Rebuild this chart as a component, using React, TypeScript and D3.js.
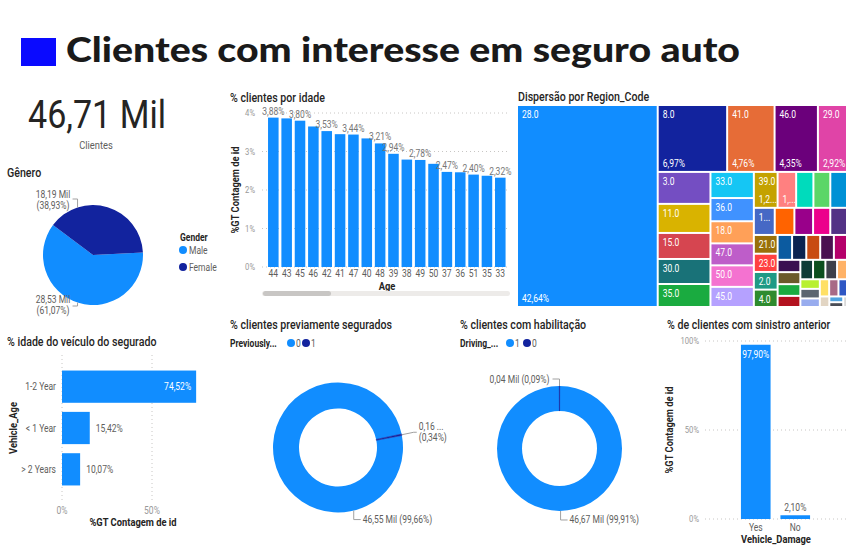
import React, { useRef, useEffect } from "react";
import * as d3 from "d3";

// KPI
const kpiValue = 46.71;
const kpiLabel = "Clientes";

// Gênero (Mil)
const genderLabels = ["Male", "Female"];
const genderValues = [28.53, 18.19];

// % clientes por idade
const ageLabels = ["44", "43", "45", "46", "42", "41", "47", "40", "48", "39", "38", "49", "50", "37", "36", "51", "35", "33"];
const agePct = [3.88, 3.86, 3.8, 3.65, 3.53, 3.45, 3.44, 3.34, 3.21, 2.94, 2.79, 2.78, 2.68, 2.47, 2.46, 2.4, 2.37, 2.32];
const ageTicks = [0, 1, 2, 3, 4];

// Dispersão por Region_Code (% dos clientes)
const regionCodes = [28, 8, 41, 46, 29, 3, 11, 15, 30, 35, 33, 36, 18, 47, 50, 45, 39, 37, 6, 48, 7, 14, 13, 38, 9, 27, 21, 23, 2, 4, 32, 12, 43, 26, 17, 24, 0, 19, 16, 31, 20, 49, 25, 34, 10, 22, 40, 5, 1, 42, 44, 51, 52];
const regionPct = [42.64, 6.97, 4.76, 4.35, 2.92, 2.53, 2.3, 2.06, 1.98, 1.82, 1.7, 1.51, 1.44, 1.43, 1.4, 1.31, 1.28, 1.0, 0.93, 0.91, 0.9, 0.85, 0.8, 0.76, 0.7, 0.68, 0.67, 0.65, 0.63, 0.62, 0.54, 0.53, 0.52, 0.51, 0.49, 0.42, 0.41, 0.4, 0.38, 0.37, 0.36, 0.34, 0.29, 0.28, 0.28, 0.25, 0.24, 0.24, 0.22, 0.15, 0.12, 0.1, 0.06];
const regionColors = ["#118DFF", "#12239E", "#E66C37", "#6B007B", "#E044A7", "#744EC2", "#D9B300", "#D64550", "#197278", "#1AAB40", "#15C6F4", "#4092FF", "#FFA058", "#BE5DC9", "#F472D0", "#B5A1FF", "#C4A200", "#FF8080", "#00DBBC", "#5BD667", "#0091D5", "#4668C5", "#FF6300", "#99008A", "#EC008C", "#533285", "#99700A", "#FF4141", "#1F9A85", "#2E8B2E", "#0C5BA0", "#0B2350", "#C84B12", "#4A1150", "#B5006B", "#3A1050", "#6B5A2A", "#1AAB40", "#B3121F", "#0E3C36", "#0B4F1E", "#3D404A", "#FFB266", "#B8F02F", "#5C6670", "#98ACEE", "#FFE066", "#A86A86", "#2F57C4", "#E2D5C3", "#4FA3E0", "#4A4D55", "#D9D9D9"];

// % idade do veículo do segurado
const vehicleAgeLabels = ["1-2 Year", "< 1 Year", "> 2 Years"];
const vehicleAgePct = [74.52, 15.42, 10.07];
const vehicleAgeTicks = [0, 50];

// % clientes previamente segurados (Mil)
const prevLabels = ["0", "1"];
const prevValues = [46.55, 0.16];

// % clientes com habilitação (Mil)
const drivingLabels = ["1", "0"];
const drivingValues = [46.67, 0.04];

// % de clientes com sinistro anterior
const damageLabels = ["Yes", "No"];
const damagePct = [97.9, 2.1];
const damageTicks = [0, 50, 100];

const BODY = "Roboto, 'Noto Sans', sans-serif";
const HEAD = "Lato, 'Open Sans', sans-serif";
const K = 0.85; // compressão horizontal (imita fonte condensada)
const DARK = "#252423";
const GRAY = "#605E5C";
const BLUE = "#118DFF";
const NAVY = "#12239E";
const deg = Math.PI / 180;

const br = d3.formatLocale({ decimal: ",", thousands: ".", grouping: [3], currency: ["R$", ""] });
const f2 = br.format(".2f");
const pct = (v: number) => f2(v) + "%";

function fitText(node: SVGTextElement, full: string, maxW: number) {
  node.textContent = full;
  if (node.getComputedTextLength() * K <= maxW) return true;
  for (let n = full.length - 1; n >= 1; n--) {
    node.textContent = full.slice(0, n) + "...";
    if (node.getComputedTextLength() * K <= maxW) return true;
  }
  return false;
}

export default function App() {
  const ref = useRef<SVGSVGElement>(null);

  useEffect(() => {
    const svg = d3.select(ref.current);
    svg.selectAll("*").remove();
    svg.style("font-family", BODY);

    const title = (x: number, y: number, t: string) =>
      svg.append("text").attr("x", x).attr("y", y).attr("font-size", 12.5).attr("font-weight", 500)
        .attr("fill", DARK).text(t);

    // cabeçalho
    svg.append("rect").attr("x", 21).attr("y", 38).attr("width", 35).attr("height", 28).attr("fill", "#0A0AFF");
    svg.append("text").attr("x", 66).attr("y", 62).attr("font-family", HEAD).attr("font-size", 35)
      .attr("font-weight", 900).attr("fill", "#1A1A1A")
      .attr("textLength", 674).attr("lengthAdjust", "spacingAndGlyphs")
      .text("Clientes com interesse em seguro auto");

    // KPI
    svg.append("text").attr("x", 97).attr("y", 128).attr("text-anchor", "middle").attr("font-size", 38)
      .attr("font-weight", 400).attr("fill", DARK).attr("textLength", 138).attr("lengthAdjust", "spacingAndGlyphs")
      .text(f2(kpiValue) + " Mil");
    svg.append("text").attr("x", 96).attr("y", 149).attr("text-anchor", "middle").attr("font-size", 11)
      .attr("fill", GRAY).text(kpiLabel);

    // ---------- Gênero ----------
    title(7, 177, "Gênero");
    {
      const cx = 93, cy = 255, r = 50;
      const total = d3.sum(genderValues);
      const pie = d3.pie<number>().sort(null).startAngle(87 * deg).endAngle(447 * deg);
      const arcs = pie(genderValues);
      const arc = d3.arc<d3.PieArcDatum<number>>().innerRadius(0).outerRadius(r);
      const g = svg.append("g").attr("transform", `translate(${cx},${cy})`);
      g.selectAll("path").data(arcs).join("path").attr("d", arc).attr("fill", (_, i) => (i === 0 ? BLUE : NAVY));
      const lab = [
        { i: 1, ang: 342, ty: [198, 209], ly: 199 },
        { i: 0, ang: 198, ty: [303, 314], ly: 306 },
      ];
      lab.forEach((l) => {
        const ax = cx + r * Math.sin(l.ang * deg), ay = cy - r * Math.cos(l.ang * deg);
        svg.append("path").attr("d", `M${ax},${ay}V${l.ly}H${ax - 5}`).attr("fill", "none")
          .attr("stroke", "#A0A0A0").attr("stroke-width", 1);
        const v = genderValues[l.i];
        svg.append("text").attr("x", 53).attr("y", l.ty[0]).attr("text-anchor", "middle").attr("font-size", 10)
          .attr("fill", GRAY).text(f2(v) + " Mil");
        svg.append("text").attr("x", 53).attr("y", l.ty[1]).attr("text-anchor", "middle").attr("font-size", 10)
          .attr("fill", GRAY).text("(" + pct((v / total) * 100) + ")");
      });
      svg.append("text").attr("x", 180).attr("y", 241).attr("font-size", 10).attr("font-weight", 700)
        .attr("fill", DARK).text("Gender");
      genderLabels.forEach((lbl, i) => {
        svg.append("circle").attr("cx", 183).attr("cy", 250 + i * 17).attr("r", 4).attr("fill", i === 0 ? BLUE : NAVY);
        svg.append("text").attr("x", 189).attr("y", 254 + i * 17).attr("font-size", 10).attr("fill", GRAY).text(lbl);
      });
    }

    // ---------- % clientes por idade ----------
    title(230, 102, "% clientes por idade");
    {
      const x = d3.scaleBand().domain(ageLabels).range([266.7, 506.9]).paddingInner(0.21).paddingOuter(0.1);
      const y = d3.scaleLinear().domain([0, 4]).range([267, 113]);
      const g = svg.append("g");
      g.selectAll("line.grid").data(ageTicks).join("line").attr("class", "grid")
        .attr("x1", 262).attr("x2", 510).attr("y1", (d) => y(d)).attr("y2", (d) => y(d))
        .attr("stroke", "#C8C6C4").attr("stroke-dasharray", "1,3");
      g.selectAll("text.yt").data(ageTicks).join("text").attr("class", "yt")
        .attr("x", 255).attr("y", (d) => y(d) + 3).attr("text-anchor", "end").attr("font-size", 9)
        .attr("fill", "#999").text((d) => d + "%");
      g.selectAll("rect").data(agePct).join("rect")
        .attr("x", (_, i) => x(ageLabels[i])!).attr("width", x.bandwidth())
        .attr("y", (d) => y(d)).attr("height", (d) => y(0) - y(d)).attr("fill", BLUE);
      g.selectAll("text.xt").data(ageLabels).join("text").attr("class", "xt")
        .attr("x", (d) => x(d)! + x.bandwidth() / 2).attr("y", 277).attr("text-anchor", "middle")
        .attr("font-size", 10).attr("fill", GRAY).text((d) => d);
      // rótulos de dados, ocultando os que se sobrepõem
      const boxes: { x0: number; x1: number; y0: number; y1: number }[] = [];
      agePct.forEach((v, i) => {
        const cxp = x(ageLabels[i])! + x.bandwidth() / 2;
        const t = g.append("text").attr("x", cxp).attr("y", y(v) - 3).attr("text-anchor", "middle")
          .attr("font-size", 10).attr("fill", "#777").text(pct(v));
        const w = (t.node() as SVGTextElement).getComputedTextLength() * K;
        const b = { x0: cxp - w / 2, x1: cxp + w / 2, y0: y(v) - 12.5, y1: y(v) - 3 };
        const hit = boxes.some((o) => b.x0 < o.x1 && b.x1 > o.x0 && b.y0 < o.y1 && b.y1 > o.y0);
        if (hit) t.remove();
        else boxes.push(b);
      });
      svg.append("text").attr("x", 387).attr("y", 290).attr("text-anchor", "middle").attr("font-size", 11)
        .attr("font-weight", 700).attr("fill", DARK).text("Age");
      svg.append("text").attr("transform", "translate(239,190) rotate(-90)").attr("text-anchor", "middle")
        .attr("font-size", 11).attr("font-weight", 700).attr("fill", DARK).text("%GT Contagem de id");
      svg.append("rect").attr("x", 262).attr("y", 291).attr("width", 248).attr("height", 5).attr("rx", 2.5).attr("fill", "#EDEBE9");
      svg.append("rect").attr("x", 263).attr("y", 291).attr("width", 68).attr("height", 5).attr("rx", 2.5).attr("fill", "#C8C6C4");
    }

    // ---------- Treemap ----------
    title(518, 101, "Dispersão por Region_Code");
    {
      const ox = 518, oy = 106;
      type R = { code: number; value: number; color: string };
      const leaves: R[] = regionCodes.map((c, i) => ({ code: c, value: regionPct[i], color: regionColors[i] }));
      const total = d3.sum(regionPct);
      const root = d3.hierarchy<any>({ children: leaves }).sum((d: any) => d.value || 0)
        .sort((a, b) => (b.value || 0) - (a.value || 0));
      d3.treemap<any>().size([328, 200]).paddingInner(2).tile(d3.treemapSquarify)(root);
      const g = svg.append("g").attr("transform", `translate(${ox},${oy})`);
      root.leaves().forEach((n: any) => {
        const w = n.x1 - n.x0, h = n.y1 - n.y0;
        g.append("rect").attr("x", n.x0).attr("y", n.y0).attr("width", w).attr("height", h).attr("fill", n.data.color);
        if (w >= 18 && h >= 15) {
          const t = g.append("text").attr("x", n.x0 + 4).attr("y", n.y0 + 12).attr("font-size", 10).attr("fill", "#fff");
          if (!fitText(t.node() as SVGTextElement, n.data.code.toFixed(1), w - 3.5)) t.remove();
        }
        if (h >= 30 && w >= 16) {
          const t = g.append("text").attr("x", n.x0 + 4).attr("y", n.y1 - 4).attr("font-size", 10).attr("fill", "#fff");
          if (!fitText(t.node() as SVGTextElement, pct((n.data.value / total) * 100), w - 3)) t.remove();
        }
      });
    }

    // ---------- % idade do veículo ----------
    title(7, 346, "% idade do veículo do segurado");
    {
      const x = d3.scaleLinear().domain([0, 80]).range([62, 206]);
      const y = d3.scaleBand().domain(vehicleAgeLabels).range([366, 490]).paddingInner(0.22).paddingOuter(0.11);
      const g = svg.append("g");
      g.selectAll("line").data(vehicleAgeTicks).join("line").attr("x1", (d) => x(d)).attr("x2", (d) => x(d))
        .attr("y1", 355).attr("y2", 500).attr("stroke", "#C8C6C4").attr("stroke-dasharray", "1,3");
      g.selectAll("text.xt").data(vehicleAgeTicks).join("text").attr("class", "xt").attr("x", (d) => x(d))
        .attr("y", 514).attr("text-anchor", "middle").attr("font-size", 10).attr("fill", "#999").text((d) => d + "%");
      g.selectAll("rect").data(vehicleAgePct).join("rect").attr("x", x(0))
        .attr("y", (_, i) => y(vehicleAgeLabels[i])!).attr("height", y.bandwidth())
        .attr("width", (d) => x(d) - x(0)).attr("fill", BLUE);
      g.selectAll("text.yt").data(vehicleAgeLabels).join("text").attr("class", "yt").attr("x", 56)
        .attr("y", (d) => y(d)! + y.bandwidth() / 2 + 3.5).attr("text-anchor", "end").attr("font-size", 10)
        .attr("fill", GRAY).text((d) => d);
      vehicleAgePct.forEach((v, i) => {
        const inside = x(v) - x(0) > 60;
        g.append("text").attr("x", inside ? x(v) - 5 : x(v) + 6).attr("y", y(vehicleAgeLabels[i])! + y.bandwidth() / 2 + 3.5)
          .attr("text-anchor", inside ? "end" : "start").attr("font-size", 10)
          .attr("fill", inside ? "#fff" : GRAY).text(pct(v));
      });
      svg.append("text").attr("x", 133).attr("y", 526).attr("text-anchor", "middle").attr("font-size", 11)
        .attr("font-weight", 700).attr("fill", DARK).text("%GT Contagem de id");
      svg.append("text").attr("transform", "translate(17,428) rotate(-90)").attr("text-anchor", "middle")
        .attr("font-size", 11).attr("font-weight", 700).attr("fill", DARK).text("Vehicle_Age");
    }

    // ---------- donuts ----------
    const donut = (
      cx: number, cy: number, ro: number, ri: number, values: number[], labels: string[],
      start: number, legendX: number, legendTitle: string, lx: number[],
      drawLabels: (pts: (a: number) => [number, number], total: number) => void
    ) => {
      const pie = d3.pie<number>().sort(null).startAngle(start * deg).endAngle((start + 360) * deg);
      const arc = d3.arc<d3.PieArcDatum<number>>().innerRadius(ri).outerRadius(ro);
      const g = svg.append("g").attr("transform", `translate(${cx},${cy})`);
      g.selectAll("path").data(pie(values)).join("path").attr("d", arc)
        .attr("fill", (_, i) => (i === 0 ? BLUE : NAVY))
        .attr("stroke", (_, i) => (i === 0 ? "none" : NAVY)).attr("stroke-width", 0.6);
      svg.append("text").attr("x", legendX).attr("y", 346.5).attr("font-size", 10).attr("font-weight", 700)
        .attr("fill", DARK).text(legendTitle);
      labels.forEach((l, i) => {
        svg.append("circle").attr("cx", lx[i]).attr("cy", 343).attr("r", 4).attr("fill", i === 0 ? BLUE : NAVY);
        svg.append("text").attr("x", lx[i] + 5).attr("y", 346.5).attr("font-size", 10).attr("fill", GRAY).text(l);
      });
      drawLabels((a) => [cx + ro * Math.sin(a * deg), cy - ro * Math.cos(a * deg)], d3.sum(values));
    };
    const leader = (d: string) =>
      svg.append("path").attr("d", d).attr("fill", "none").attr("stroke", "#A0A0A0").attr("stroke-width", 1);
    const lbl = (x: number, y: number, t: string, anchor = "start") =>
      svg.append("text").attr("x", x).attr("y", y).attr("text-anchor", anchor).attr("font-size", 10)
        .attr("fill", GRAY).text(t);

    title(230, 329, "% clientes previamente segurados");
    donut(338, 447.5, 65, 39, prevValues, prevLabels, 79.3, 230, "Previously...", [291, 306], (pt, total) => {
      const [ax, ay] = pt(78.7);
      leader(`M${ax},${ay}L${ax + 12},${ay - 2.5}H${ax + 15}`);
      const t = lbl(ax + 17, ay - 4.5, "");
      fitText(t.node() as SVGTextElement, f2(prevValues[1]) + " Mil", 27);
      lbl(ax + 17, ay + 6.5, "(" + pct((prevValues[1] / total) * 100) + ")");
      const [bx, by] = pt(166);
      leader(`M${bx},${by}V${by + 9}H${bx + 7}`);
      lbl(bx + 9, by + 12.5, f2(prevValues[0]) + " Mil (" + pct((prevValues[0] / total) * 100) + ")");
    });

    title(460, 329, "% clientes com habilitação");
    donut(559.5, 448.5, 62.5, 37.5, drivingValues, drivingLabels, 0.16, 460, "Driving_...", [510, 527], (pt, total) => {
      const [ax, ay] = pt(0);
      leader(`M${ax},${ay}V${ay - 7}H${ax - 7}`);
      lbl(ax - 10, ay - 3.5, f2(drivingValues[1]) + " Mil (" + pct((drivingValues[1] / total) * 100) + ")", "end");
      const [bx, by] = pt(179);
      leader(`M${bx},${by}V${by + 9}H${bx + 7}`);
      lbl(bx + 9, by + 12.5, f2(drivingValues[0]) + " Mil (" + pct((drivingValues[0] / total) * 100) + ")");
    });

    // ---------- sinistro anterior ----------
    title(667, 329, "% de clientes com sinistro anterior");
    {
      const y = d3.scaleLinear().domain([0, 100]).range([519, 341]);
      const x = d3.scaleBand().domain(damageLabels).range([736, 815]).paddingInner(0.25).paddingOuter(0.125);
      const g = svg.append("g");
      g.selectAll("line").data(damageTicks).join("line").attr("x1", 705).attr("x2", 847)
        .attr("y1", (d) => y(d)).attr("y2", (d) => y(d)).attr("stroke", "#C8C6C4").attr("stroke-dasharray", "1,3");
      g.selectAll("text.yt").data(damageTicks).join("text").attr("class", "yt").attr("x", 699)
        .attr("y", (d) => y(d) + 3).attr("text-anchor", "end").attr("font-size", 9).attr("fill", "#999")
        .text((d) => d + "%");
      g.selectAll("rect").data(damagePct).join("rect").attr("x", (_, i) => x(damageLabels[i])!)
        .attr("width", x.bandwidth()).attr("y", (d) => y(d)).attr("height", (d) => y(0) - y(d)).attr("fill", BLUE);
      damagePct.forEach((v, i) => {
        const inside = y(0) - y(v) > 20;
        g.append("text").attr("x", x(damageLabels[i])! + x.bandwidth() / 2)
          .attr("y", inside ? y(v) + 13 : y(v) - 4).attr("text-anchor", "middle").attr("font-size", 10)
          .attr("fill", inside ? "#fff" : GRAY).text(pct(v));
      });
      g.selectAll("text.xt").data(damageLabels).join("text").attr("class", "xt")
        .attr("x", (d) => x(d)! + x.bandwidth() / 2).attr("y", 531).attr("text-anchor", "middle")
        .attr("font-size", 10).attr("fill", GRAY).text((d) => d);
      svg.append("text").attr("x", 776).attr("y", 543).attr("text-anchor", "middle").attr("font-size", 11)
        .attr("font-weight", 700).attr("fill", DARK).text("Vehicle_Damage");
      svg.append("text").attr("transform", "translate(673,430) rotate(-90)").attr("text-anchor", "middle")
        .attr("font-size", 11).attr("font-weight", 700).attr("fill", DARK).text("%GT Contagem de id");
    }

    // fonte "condensada": comprime horizontalmente todos os textos sem largura fixa
    svg.selectAll<SVGTextElement, unknown>("text").each(function () {
      if (this.getAttribute("textLength")) return;
      const len = this.getComputedTextLength();
      if (len > 0) d3.select(this).attr("textLength", len * K).attr("lengthAdjust", "spacingAndGlyphs");
    });
  }, []);

  return (
    <svg ref={ref} width={863} height={548} style={{ position: "absolute", left: 0, top: 0, background: "#fff" }} />
  );
}
